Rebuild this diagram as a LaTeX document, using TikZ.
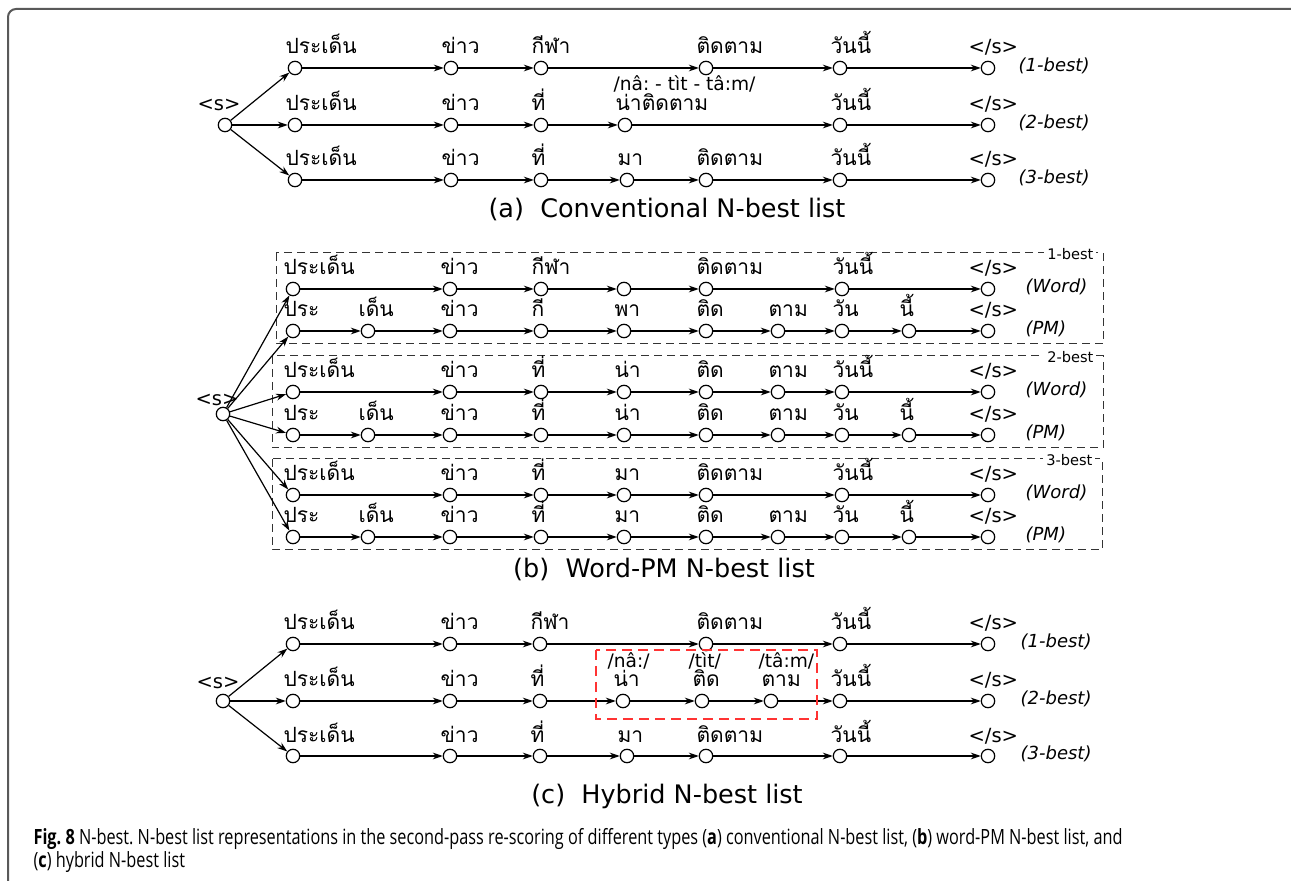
\documentclass[tikz,border=0pt]{standalone}
\usepackage{fontspec}
\usepackage{tikz}
\usetikzlibrary{arrows.meta}
\setmainfont{DejaVu Sans}[ItalicFont={DejaVu Sans Oblique},BoldFont={DejaVu Sans Bold}]
\newfontfamily\thaifont[Script=Thai]{Loma}
\newfontfamily\capfont[FakeStretch=0.775]{Open Sans}
\frenchspacing

% end-of-sentence token, set in the Latin font
\newcommand{\eos}{{\rmfamily\fontsize{9.75}{12}\selectfont\kern-5pt</s>}}

% one hypothesis: a circle per x/word on row y, each fed by an arrow
\newcommand{\chain}[3]{%
  \foreach \x/\w [count=\i, remember=\i as \j (initially 0)] in {#3} {
    \node[tok] (#1-\i) at (\x,#2) {};
    \node[word] (#1-\i-w) at ([shift={(-10,-14)}]#1-\i.center) {\w};
    \ifnum\i>1 \draw[->] (#1-\j) -- (#1-\i); \fi
  }%
}

\tikzset{
  tok/.style={circle,draw,fill=white,inner sep=0pt,minimum size=6.7pt},
  word/.style={anchor=base west,inner sep=0pt,font=\thaifont\fontsize{10.5}{12}\selectfont},
  start/.style={anchor=base,inner sep=0pt,font=\fontsize{9.75}{12}\selectfont},
  phon/.style={anchor=base west,inner sep=0pt,font=\fontsize{9.3}{11}\selectfont},
  tag/.style={anchor=west,inner sep=0pt,font=\itshape\fontsize{9}{11}\selectfont},
  boxlbl/.style={anchor=east,fill=white,inner sep=1.5pt,font=\fontsize{7.3}{9}\selectfont},
  subcap/.style={anchor=base,inner sep=0pt,font=\fontsize{12.75}{15}\selectfont},
  group/.style={draw=black!80,line width=0.5pt,dash pattern=on 4pt off 2.5pt},
}

\begin{document}
\begin{tikzpicture}[x=0.5pt,y=-0.5pt,line width=0.6pt,>={Stealth[length=5pt,width=3.4pt]}]
\useasboundingbox (0,0) rectangle (1291,881);
\draw[black!65,line width=1pt,rounded corners=4pt] (8,881) -- (8,9) -- (1291,9);

%% (a) conventional
\node[tok] (sa) at (225,125) {};
\node[start] (sa-w) at ([shift={(-6,-14)}]sa.center) {<s>};
\chain{a1}{68}{295/ประเด็น, 451/ข่าว, 541/กีฬา, 706/ติดตาม, 840/วันนี้, 988/\eos}
\chain{a2}{125}{295/ประเด็น, 451/ข่าว, 541/ที่, 625/น่าติดตาม, 840/วันนี้, 988/\eos}
\chain{a3}{180}{295/ประเด็น, 451/ข่าว, 541/ที่, 627/มา, 706/ติดตาม, 840/วันนี้, 988/\eos}
\node[phon] (a2-4-p) at ([shift={(-2,-20)}]a2-4-w.base west) {/nâ: - tìt - tâ:m/};
\foreach \r in {a1,a2,a3}
  \draw[->] (sa) -- (\r-1);
\foreach \r/\y/\t in {a1/66/1-best, a2/123/2-best, a3/178/3-best}
  \node[tag] (\r-tag) at (1018,\y) {(\t)};
\node[subcap] (capa) at (667,218) {(a)~ Conventional N-best list};

%% (b) word-PM
\draw[group] (276,253) rectangle (1103,344);
\draw[group] (272,356) rectangle (1103,448);
\draw[group] (272,459) rectangle (1102,550);
\node[boxlbl] (g1) at (1097,254) {1-best};
\node[boxlbl] (g2) at (1097,357) {2-best};
\node[boxlbl] (g3) at (1096,460) {3-best};
\node[tok] (sb) at (223,414) {};
\node[start] (sb-w) at ([shift={(-6,-8)}]sb.center) {<s>};
\chain{b1}{289}{293/ประเด็น, 450/ข่าว, 541/กีฬา, 624/{}, 706/ติดตาม, 842/วันนี้, 988/\eos}
\chain{b2}{331}{293/ประ, 368/เด็น, 450/ข่าว, 541/กี, 624/พา, 706/ติด, 778/ตาม, 842/วัน, 909/นี้, 988/\eos}
\chain{b3}{392}{293/ประเด็น, 450/ข่าว, 541/ที่, 624/น่า, 706/ติด, 778/ตาม, 842/วันนี้, 988/\eos}
\chain{b4}{435}{293/ประ, 368/เด็น, 450/ข่าว, 541/ที่, 624/น่า, 706/ติด, 778/ตาม, 842/วัน, 909/นี้, 988/\eos}
\chain{b5}{495}{293/ประเด็น, 450/ข่าว, 541/ที่, 624/มา, 706/ติดตาม, 842/วันนี้, 988/\eos}
\chain{b6}{537}{293/ประ, 368/เด็น, 450/ข่าว, 541/ที่, 624/มา, 706/ติด, 778/ตาม, 842/วัน, 909/นี้, 988/\eos}
\foreach \r in {b1,b2,b3,b4,b5,b6}
  \draw[->] (sb) -- (\r-1);
\foreach \r/\y/\t in {b1/287/Word, b2/329/PM, b3/390/Word, b4/433/PM, b5/493/Word, b6/535/PM}
  \node[tag] (\r-tag) at (1025,\y) {(\t)};
\node[subcap] (capb) at (664,578) {(b)~ Word-PM N-best list};

%% (c) hybrid
\node[tok] (sc) at (223,701) {};
\node[start] (sc-w) at ([shift={(-5,-12)}]sc.center) {<s>};
\chain{c1}{644}{293/ประเด็น, 450/ข่าว, 540/กีฬา, 706/ติดตาม, 840/วันนี้, 988/\eos}
\chain{c2}{701}{293/ประเด็น, 450/ข่าว, 540/ที่, 623/น่า, 702/ติด, 771/ตาม, 840/วันนี้, 988/\eos}
\chain{c3}{756}{293/ประเด็น, 450/ข่าว, 540/ที่, 627/มา, 706/ติดตาม, 840/วันนี้, 988/\eos}
\node[phon] (c2-4-p) at ([shift={(-6,-19)}]c2-4-w.base west) {/nâ:/};
\node[phon] (c2-5-p) at ([shift={(-4,-19)}]c2-5-w.base west) {/tìt/};
\node[phon] (c2-6-p) at ([shift={(-3,-19)}]c2-6-w.base west) {/tâ:m/};
\draw[red!80!white,line width=0.7pt,dash pattern=on 5pt off 3pt] (596,650) rectangle (817,719);
\foreach \r in {c1,c2,c3}
  \draw[->] (sc) -- (\r-1);
\foreach \r/\y/\t in {c1/642/1-best, c2/699/2-best, c3/754/3-best}
  \node[tag] (\r-tag) at (1020,\y) {(\t)};
\node[subcap] (capc) at (667,803) {(c)~ Hybrid N-best list};

%% figure caption (base anchor sits on the last line)
\node[anchor=base west,align=left,inner sep=0pt,font=\capfont\fontsize{10.5}{11.5}\selectfont] (fig) at (33,867)
  {\textbf{Fig. 8} N-best. N-best list representations in the second-pass re-scoring of different types (\textbf{a}) conventional N-best list, (\textbf{b}) word-PM N-best list, and\\
   (\textbf{c}) hybrid N-best list};
\end{tikzpicture}
\end{document}
